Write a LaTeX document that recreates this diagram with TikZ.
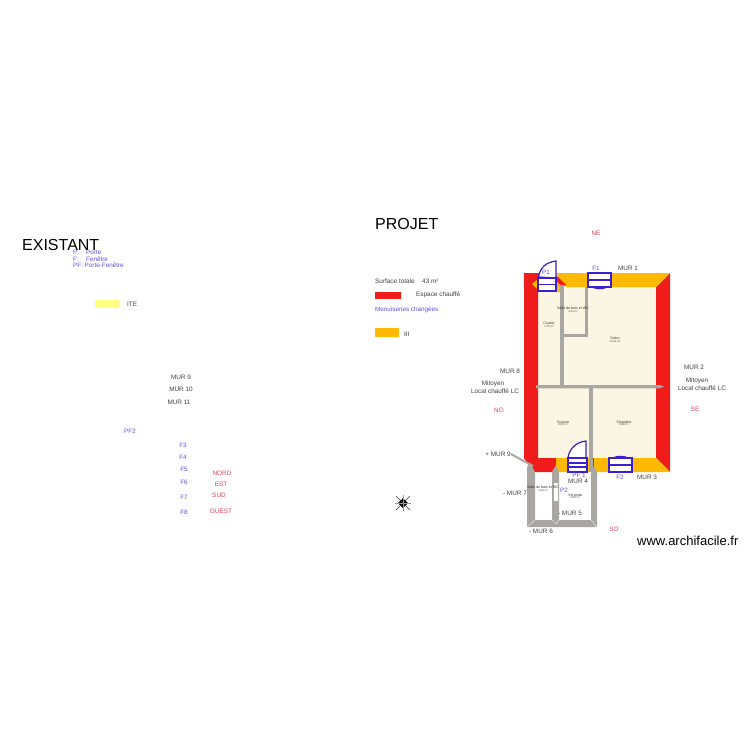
\documentclass[tikz,border=0pt]{standalone}
\usepackage{fontspec}
\setmainfont{Liberation Sans}
\definecolor{murred}{HTML}{F01C1C}
\definecolor{itiorange}{HTML}{FFB900}
\definecolor{itepale}{HTML}{FFFF80}
\definecolor{roomcream}{HTML}{FBF6E3}
\definecolor{wallgrey}{HTML}{A9A7A2}
\definecolor{menuis}{HTML}{3C1FD0}
\definecolor{cardinal}{HTML}{E0405A}
\tikzset{
    murlabel/.style={font=\fontsize{6.4}{7}\selectfont, text=black!75, inner sep=0pt},
    menulabel/.style={font=\fontsize{6.3}{7}\selectfont, text=menuis!80, inner sep=0pt},
    dirlabel/.style={font=\fontsize{6.4}{7}\selectfont, text=cardinal, inner sep=0pt},
    titlelabel/.style={font=\fontsize{16}{18}\selectfont, text=black, inner sep=0pt, anchor=west},
    roomlabel/.style={font=\fontsize{3.6}{4}\selectfont, text=black!80, inner sep=0pt},
    arealabel/.style={font=\fontsize{2.8}{3}\selectfont, text=black!70, inner sep=0pt},
    menuline/.style={draw=menuis, fill=white, line width=1.2pt},
    menubar/.style={draw=menuis, line width=1.8pt},
    leader/.style={draw=wallgrey, line width=2pt, double=white, double distance=0.8pt}
}
\begin{document}
\begin{tikzpicture}[x=1pt, y=-1pt]
        \useasboundingbox (0, 0) rectangle (750, 750);

        % rooms and walls
        \fill[roomcream] (538, 287) rectangle (656, 458);
        \fill[murred] (524, 273) -- (556, 273) -- (556, 287) -- (538, 287) -- (538, 458) -- (556, 458)
            -- (556, 472) -- (533, 472) -- (524, 458) -- cycle;
        \fill[murred] (670, 273) -- (670, 472) -- (656, 458) -- (656, 287) -- cycle;
        \fill[itiorange] (556, 273) -- (670, 273) -- (656, 287) -- (566, 287) -- cycle;
        \fill[murred] (556, 275) -- (566, 285) -- (562, 287) -- (556, 281) -- cycle;
        \fill[itiorange] (556, 281) -- (562, 287) -- (561, 293) -- (556, 291) -- cycle;
        \fill[itiorange] (532, 284) -- (538, 279) -- (538, 290) -- cycle;
        \fill[itiorange] (556, 458) -- (656, 458) -- (670, 472) -- (556, 472) -- cycle;
        \fill[murred] (592, 458) rectangle (594, 472);

        % partitions
        \fill[wallgrey] (536, 385) -- (660, 385) -- (664, 386.5) -- (660, 388.3) -- (536, 388.3) -- cycle;
        \fill[wallgrey] (560.3, 285) rectangle (563.6, 385);
        \fill[wallgrey] (585, 287) rectangle (587.8, 337);
        \fill[wallgrey] (562, 334) rectangle (587.8, 337);
        \fill[wallgrey] (589.3, 388) rectangle (592.6, 472);
        \fill[wallgrey] (530, 463) -- (527, 467) -- (527, 527) -- (597, 527) -- (597, 472) -- (594, 466)
            -- (591, 472) -- (591, 520) -- (559, 520) -- (559, 472) -- (556, 465) -- (552, 472)
            -- (552, 520) -- (535, 520) -- (535, 472) -- cycle;
        \fill[white] (554, 483) rectangle (558, 501);
        \draw[white, line width=0.3pt] (527, 527) -- (535, 520) (597, 527) -- (591, 520)
            (552, 520) -- (556, 524) -- (559, 520);

        % menuiseries
        \draw[menuline] (538.5, 277) .. controls (540, 267) and (547, 262) .. (556, 261) -- (556, 278) -- cycle;
        \draw[menuline] (538, 278) rectangle (556, 291);
        \draw[menubar] (538, 284.5) -- (556, 284.5);
        \draw[menuline] (593, 287.5) .. controls (598, 289) and (602, 289) .. (606, 287.5);
        \draw[menuline] (588, 273) rectangle (611, 287);
        \draw[menubar] (588, 280) -- (611, 280);
        \draw[menuline] (568, 458) .. controls (569, 449) and (576, 442) .. (586, 441) -- (586, 458) -- cycle;
        \draw[menuline] (568, 458) rectangle (587, 472);
        \draw[menubar] (568, 463) -- (587, 463) (568, 467) -- (587, 467);
        \draw[menuline] (614, 457.5) .. controls (618, 456) and (623, 456) .. (627, 457.5);
        \draw[menuline] (609, 458) rectangle (632, 472);
        \draw[menubar] (609, 465) -- (632, 465);

        % legend boxes
        \fill[itepale] (95, 300) rectangle (119, 308);
        \fill[murred] (375, 292) rectangle (401, 299);
        \fill[itiorange] (375, 328) rectangle (399, 337);

        % compass
        \fill[black] (403, 498) -- (408, 503) -- (403, 508) -- (398, 503) -- cycle;
        \draw[black!80, line width=0.6pt] (396, 496) -- (410, 510) (410, 496) -- (396, 510);
        \draw[black!40, line width=0.3pt] (403, 495) -- (403, 511) (395, 503) -- (411, 503);

        % titles and legend
        \node[titlelabel] at (22, 245)(existant){EXISTANT};
        \node[titlelabel] at (375, 224)(projet){PROJET};
        \node[menulabel, anchor=west] at (73, 252)(legp){P:};
        \node[menulabel, anchor=west] at (86, 252)(legporte){Porte};
        \node[menulabel, anchor=west] at (73, 259)(legf){F:};
        \node[menulabel, anchor=west] at (86, 259)(legfenetre){Fenêtre};
        \node[menulabel, anchor=west] at (73, 265)(legpf){PF: Porte-Fenêtre};
        \node[murlabel, anchor=west] at (127, 304)(ite){ITE};
        \node[murlabel, anchor=west] at (375, 281.5)(surface){Surface totale};
        \node[murlabel, anchor=west] at (422, 281.5)(surfaceval){43 m²};
        \node[murlabel, anchor=west] at (416, 295)(chauffe){Espace chauffé};
        \node[menulabel, anchor=west] at (375, 310)(menuiseries){Menuiseries changées};
        \node[murlabel, anchor=west] at (404, 334)(iti){III};

        % existant
        \node[murlabel] at (181, 377)(mur9e){MUR 9};
        \node[murlabel] at (181, 389)(mur10){MUR 10};
        \node[murlabel] at (179, 402)(mur11){MUR 11};
        \node[menulabel] at (130, 431)(pf2){PF2};
        \node[menulabel] at (183, 445)(f3){F3};
        \node[menulabel] at (183, 457)(f4){F4};
        \node[menulabel] at (184, 469)(f5){F5};
        \node[menulabel] at (184, 482)(f6){F6};
        \node[menulabel] at (184, 497)(f7){F7};
        \node[menulabel] at (184, 512)(f8){F8};
        \node[dirlabel] at (222, 473)(nord){NORD};
        \node[dirlabel] at (221, 484)(est){EST};
        \node[dirlabel] at (219, 495)(sud){SUD};
        \node[dirlabel] at (221, 511)(ouest){OUEST};

        % projet
        \node[dirlabel] at (596, 233)(ne){NE};
        \node[dirlabel] at (499, 410)(no){NO};
        \node[dirlabel] at (695, 409)(se){SE};
        \node[dirlabel] at (614, 529)(so){SO};
        \node[menulabel] at (546, 272)(p1){P1};
        \node[menulabel] at (596, 268)(f1){F1};
        \node[menulabel] at (579, 475)(pf1){PF 1};
        \node[menulabel] at (620, 477)(f2){F2};
        \node[menulabel] at (564, 490)(p2){P2};
        \node[murlabel] at (628, 268)(mur1){MUR 1};
        \node[murlabel] at (694, 367)(mur2){MUR 2};
        \node[murlabel] at (647, 477)(mur3){MUR 3};
        \node[murlabel] at (578, 481)(mur4){MUR 4};
        \node[murlabel] at (570, 513)(mur5){- MUR 5};
        \node[murlabel] at (541, 531)(mur6){- MUR 6};
        \node[murlabel] at (515, 493)(mur7){- MUR 7};
        \node[murlabel] at (510, 371)(mur8){MUR 8};
        \node[murlabel] at (498, 454)(mur9){+ MUR 9};
        \node[murlabel] at (493, 384)(mitoyena){Mitoyen};
        \node[murlabel] at (495, 391)(locala){Local chauffé LC};
        \node[murlabel] at (697, 381)(mitoyenb){Mitoyen};
        \node[murlabel] at (702, 388)(localb){Local chauffé LC};
        \node[font=\fontsize{13}{15}\selectfont, text=black, inner sep=0pt, anchor=west] at (637, 541)(site){www.archifacile.fr};

        \coordinate (mur9end) at (533, 466);
        \path[leader] (mur9.east) edge (mur9end);

        % rooms
        \node[roomlabel] at (549, 323)(couloir){Couloir};
        \node[arealabel] at (549, 327)(couloira){4,78 m²};
        \node[roomlabel] at (573, 308)(sdb){Salle de bain et WC};
        \node[arealabel] at (573, 312)(sdba){3,44 m²};
        \node[roomlabel] at (615, 338)(salon){Salon};
        \node[arealabel] at (615, 342)(salona){10,82 m²};
        \node[roomlabel] at (563, 422)(cuisine){Cuisine};
        \node[arealabel] at (563, 425)(cuisinea){8,00 m²};
        \node[roomlabel] at (624, 422)(chambre){Chambre};
        \node[arealabel] at (624, 425)(chambrea){8,28 m²};
        \node[roomlabel] at (543, 487)(sdbb){Salle de bain et WC};
        \node[arealabel] at (543, 491)(sdbba){2,98 m²};
        \node[roomlabel] at (575, 495)(veranda){Véranda};
        \node[arealabel] at (575, 498)(verandaa){2,88 m²};
    \end{tikzpicture}
\end{document}
